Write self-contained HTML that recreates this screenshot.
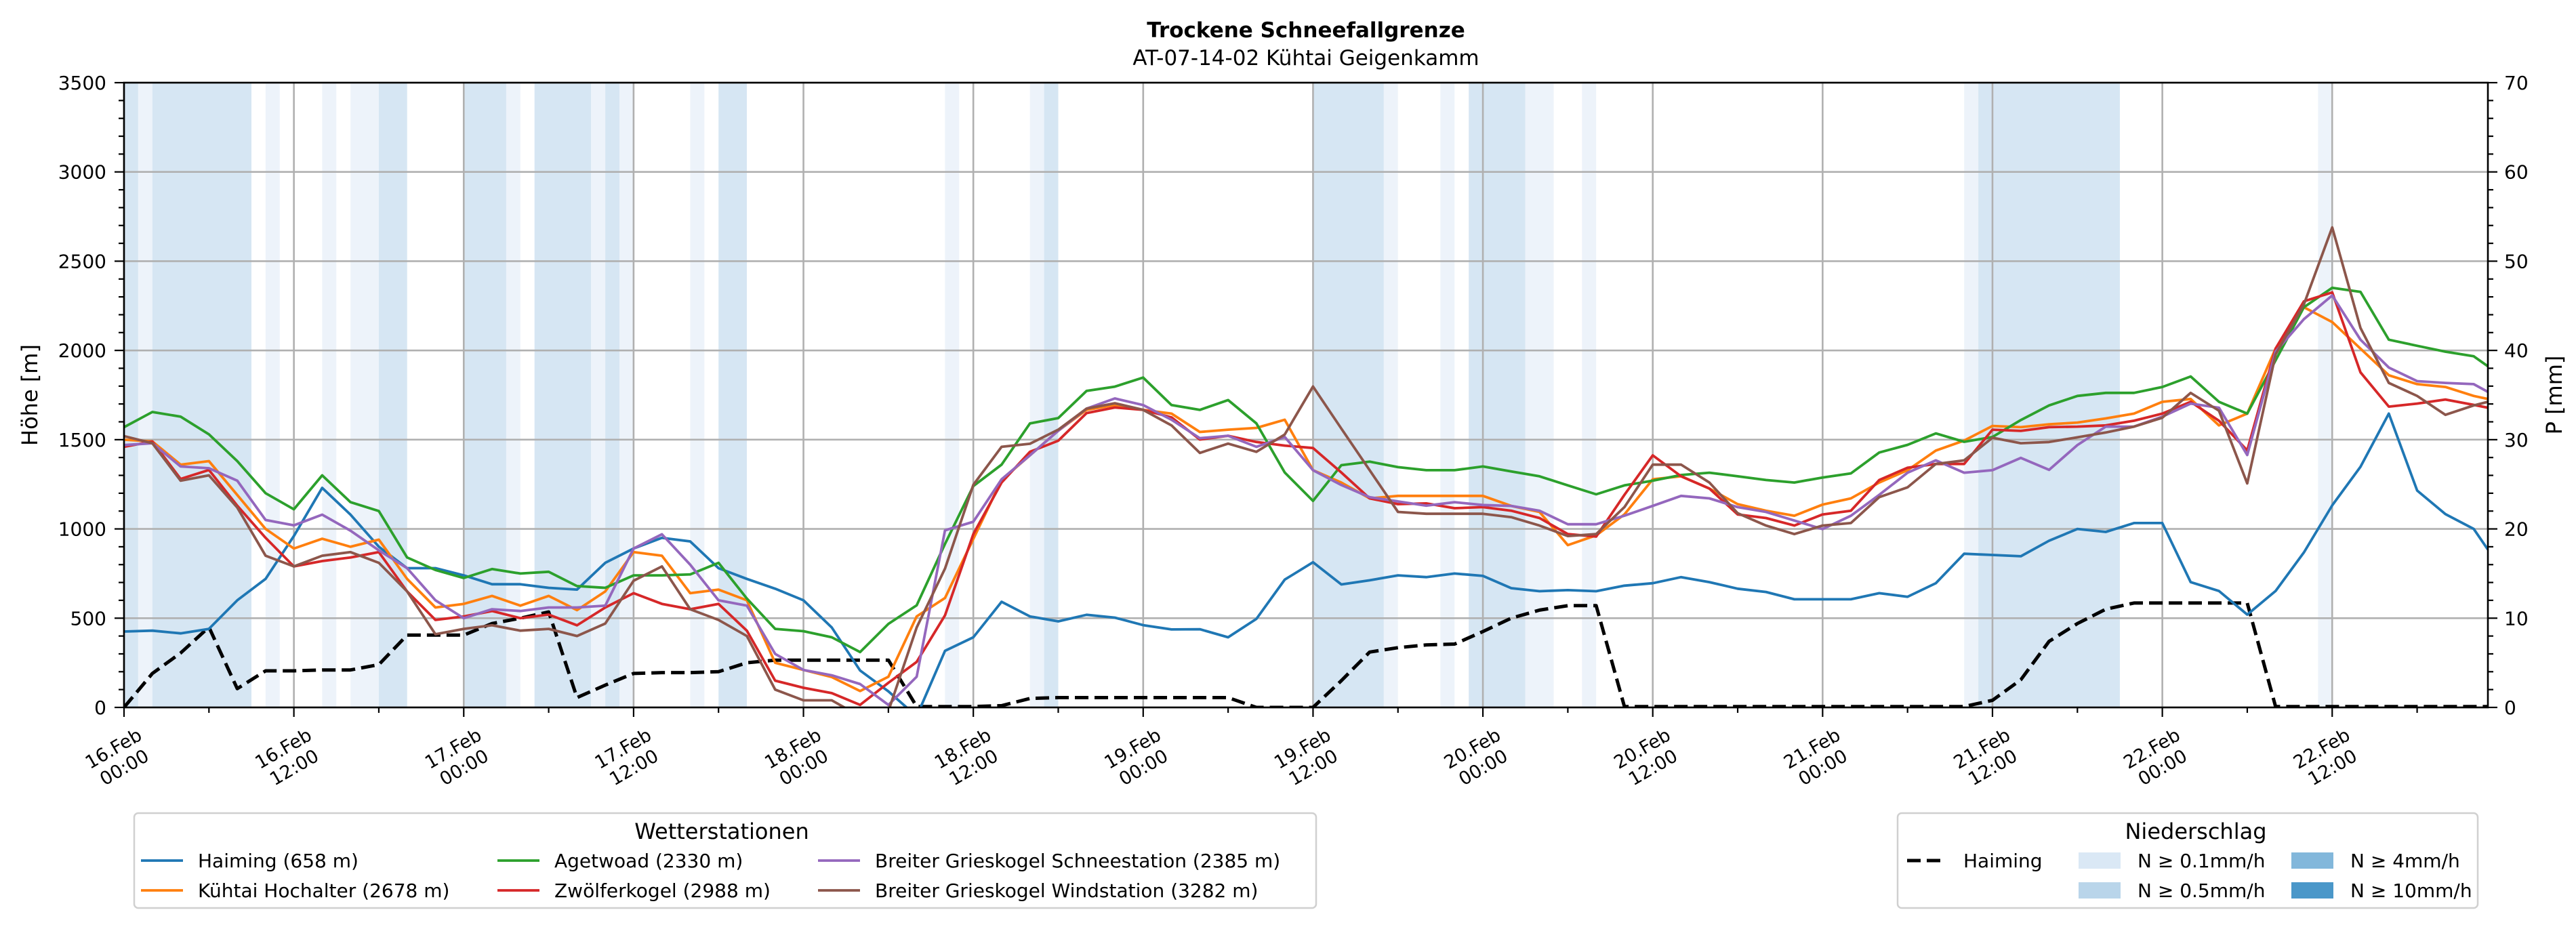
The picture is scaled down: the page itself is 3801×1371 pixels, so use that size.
<!DOCTYPE html>
<html><head><meta charset="utf-8"><style>
html,body{margin:0;padding:0;background:#fff}
svg{display:block;font-family:"DejaVu Sans","Liberation Sans",sans-serif}
</style></head><body>
<svg id="chart" width="3801" height="1371" viewBox="0 0 3801 1371" xmlns="http://www.w3.org/2000/svg">
<text x="1927" y="55" font-size="31" font-weight="bold" text-anchor="middle">Trockene Schneefallgrenze</text>
<text x="1927" y="96" font-size="31" text-anchor="middle">AT-07-14-02 Kühtai Geigenkamm</text>
<text transform="translate(55,583) rotate(-90)" font-size="32" text-anchor="middle">Höhe [m]</text>
<text transform="translate(3780,583) rotate(-90)" font-size="32" text-anchor="middle">P [mm]</text>
<defs><clipPath id="plotclip"><rect x="183" y="122" width="3488" height="922"/></clipPath></defs>
<g id="bands" clip-path="url(#plotclip)"></g>
<g id="grid"></g>
<g id="series" clip-path="url(#plotclip)"></g>
<g id="axes"></g>
<g id="legends"></g>
</svg>
<script>
const hours = [];
for (let h = 0; h <= 166; h += 2) hours.push(h);
hours.push(167);
const haiming = [425,430,415,440,600,720,960,1230,1080,900,780,780,740,690,690,670,660,810,890,950,930,780,720,665,600,448,207,90,-50,317,393,592,510,482,519,503,461,437,438,393,496,716,813,689,712,740,730,750,737,668,651,657,651,682,696,730,702,665,647,606,606,606,640,620,696,861,854,847,934,1000,983,1033,1033,702,652,520,652,868,1132,1348,1646,1215,1083,1000,884];
const agetwoad = [1570,1655,1629,1530,1380,1200,1110,1300,1150,1100,840,770,725,775,750,760,680,670,740,740,745,810,610,440,427,393,310,468,572,916,1240,1360,1591,1621,1773,1797,1848,1694,1667,1722,1591,1316,1157,1357,1377,1346,1329,1329,1350,1322,1295,1244,1194,1244,1270,1302,1315,1295,1274,1260,1288,1311,1428,1471,1535,1488,1515,1610,1692,1745,1762,1762,1795,1854,1712,1646,1944,2242,2351,2328,2060,2026,1993,1967,1911];
const kuehtai = [1500,1490,1360,1380,1190,1000,890,945,900,940,720,560,580,625,570,625,545,650,870,850,640,660,600,250,210,170,92,172,510,613,944,1274,1412,1550,1667,1694,1667,1646,1543,1556,1566,1612,1329,1260,1171,1185,1185,1185,1185,1129,1095,909,964,1081,1278,1295,1226,1139,1102,1074,1136,1171,1260,1329,1439,1495,1577,1570,1586,1596,1619,1646,1712,1728,1580,1646,2010,2242,2159,2010,1861,1811,1795,1745,1728];
const zwoelfer = [1460,1490,1280,1330,1130,950,790,820,840,870,650,490,510,540,500,520,460,560,640,580,550,580,430,150,110,80,14,138,255,516,971,1260,1432,1494,1649,1680,1667,1625,1501,1522,1487,1467,1453,1316,1171,1139,1143,1116,1122,1102,1061,971,957,1191,1412,1295,1226,1081,1061,1019,1081,1102,1274,1343,1364,1364,1556,1549,1570,1573,1580,1606,1646,1712,1606,1440,2010,2275,2325,1877,1685,1702,1725,1695,1679];
const schnee = [1470,1480,1350,1340,1270,1050,1020,1080,990,880,780,600,500,550,540,560,560,570,890,970,800,600,570,300,210,180,131,14,172,992,1040,1278,1412,1550,1674,1731,1694,1612,1508,1522,1460,1515,1329,1246,1178,1154,1130,1150,1134,1129,1102,1026,1026,1074,1129,1185,1171,1122,1095,1047,999,1074,1191,1315,1384,1315,1329,1398,1331,1470,1573,1573,1629,1702,1679,1414,1993,2175,2308,2060,1904,1828,1818,1811,1768];
const wind = [1520,1480,1270,1300,1120,850,790,850,870,810,650,410,440,460,430,440,400,470,710,790,550,490,400,100,40,40,-50,-20,448,778,1247,1460,1477,1556,1674,1704,1667,1580,1426,1478,1432,1529,1798,1562,1329,1095,1085,1085,1085,1066,1019,960,971,1122,1360,1360,1260,1088,1019,971,1019,1033,1178,1233,1364,1384,1511,1480,1487,1513,1540,1573,1623,1762,1662,1255,1977,2258,2689,2126,1818,1745,1639,1692,1712];
const precip = [0,3.8,6.1,9.0,2.1,4.1,4.1,4.2,4.2,4.8,8.1,8.1,8.1,9.4,10.0,10.7,1.1,2.5,3.8,3.9,3.9,4.0,5.0,5.3,5.3,5.3,5.3,5.3,0.1,0.1,0.1,0.2,1.0,1.1,1.1,1.1,1.1,1.1,1.1,1.1,0,0,0,3.0,6.2,6.7,7.0,7.1,8.5,10.0,10.9,11.4,11.4,0.1,0.1,0.1,0.1,0.1,0.1,0.1,0.1,0.1,0.1,0.1,0.1,0.1,0.8,3.1,7.4,9.4,11.0,11.7,11.7,11.7,11.7,11.7,0.1,0.1,0.1,0.1,0.1,0.1,0.1,0.1,0.1];
// precipitation intensity bands: start hour, end hour, level (1: >=0.1, 2: >=0.5)
const bandStart = [0,1,2,10,14,16,18,24,27,29,33,34,35,40,42,58,64,65,84,89,93,95,99,103,130,131,155];
const bandEnd   = [1,2,9,11,15,18,20,27,28,33,34,35,36,41,44,59,65,66,89,90,94,99,101,104,131,141,156];
const bandLevel = [2,1,2,1,1,1,2,2,1,2,1,2,1,1,2,1,1,2,2,1,1,2,1,1,1,2,1];
const xTickHours = [0,12,24,36,48,60,72,84,96,108,120,132,144,156];
const xTickDates = ["16.Feb","16.Feb","17.Feb","17.Feb","18.Feb","18.Feb","19.Feb","19.Feb","20.Feb","20.Feb","21.Feb","21.Feb","22.Feb","22.Feb"];
const xTickTimes = ["00:00","12:00","00:00","12:00","00:00","12:00","00:00","12:00","00:00","12:00","00:00","12:00","00:00","12:00"];
const yTicks = [0,500,1000,1500,2000,2500,3000,3500];
const y2Ticks = [0,10,20,30,40,50,60,70];

const NS = "http://www.w3.org/2000/svg";
const L = 183, R = 3671, T = 122, B = 1044;
const HMAX = 167, YMAX = 3500, PMAX = 70;
const X = h => L + h * (R - L) / HMAX;
const Y = m => B - m * (B - T) / YMAX;
const YP = p => B - p * (B - T) / PMAX;
function mk(tag, attrs, parent) {
  const e = document.createElementNS(NS, tag);
  for (const k in attrs) e.setAttribute(k, attrs[k]);
  parent.appendChild(e);
  return e;
}
const gB = document.getElementById('bands'), gG = document.getElementById('grid'),
      gS = document.getElementById('series'), gA = document.getElementById('axes'),
      gL = document.getElementById('legends');

// bands
bandStart.forEach((s, i) => {
  const r = mk('rect', {x: X(s), y: T, width: X(bandEnd[i]) - X(s), height: B - T, fill: bandLevel[i] === 2 ? '#d6e6f3' : '#edf3fa'}, gB);
  
  
});
// grid
xTickHours.forEach(h => {
  const l = mk('line', {x1: X(h), x2: X(h), y1: T, y2: B, stroke: '#b0b0b0', 'stroke-width': 2.6}, gG);
  
  
});
yTicks.forEach(v => {
  const l = mk('line', {x1: L, x2: R, y1: Y(v), y2: Y(v), stroke: '#b0b0b0', 'stroke-width': 2.6}, gG);
  
  
});
// series
function line(vals, color, name, dashed, yfn) {
  const pts = vals.map((v, i) => X(hours[i]).toFixed(1) + ',' + yfn(v).toFixed(1)).join(' ');
  const p = mk('polyline', {points: pts, fill: 'none', stroke: color, 'stroke-width': dashed ? 5 : 3.8, 'stroke-linejoin': 'round'}, gS);
  if (dashed) p.setAttribute('stroke-dasharray', '20 9');
  
  
}
line(precip, '#000', 'precip-haiming-line', true, YP);
line(haiming, '#1f77b4', 'haiming-line', false, Y);
line(kuehtai, '#ff7f0e', 'kuehtai-hochalter-line', false, Y);
line(agetwoad, '#2ca02c', 'agetwoad-line', false, Y);
line(zwoelfer, '#d62728', 'zwoelferkogel-line', false, Y);
line(schnee, '#9467bd', 'grieskogel-schneestation-line', false, Y);
line(wind, '#8c564b', 'grieskogel-windstation-line', false, Y);

// axes frame
const fr = mk('rect', {x: L, y: T, width: R - L, height: B - T, fill: 'none', stroke: '#000', 'stroke-width': 2.6}, gA);


// left ticks
for (let v = 0; v <= YMAX; v += 100) {
  const major = v % 500 === 0;
  mk('line', {x1: L - (major ? 14 : 8), x2: L, y1: Y(v), y2: Y(v), stroke: '#000', 'stroke-width': 2.2}, gA);
}
yTicks.forEach(v => {
  const t = mk('text', {x: L - 26, y: Y(v) + 10, 'font-size': 28, 'text-anchor': 'end'}, gA);
  t.textContent = v;
  
  
});
for (let p = 0; p <= PMAX; p += 2) {
  const major = p % 10 === 0;
  mk('line', {x1: R, x2: R + (major ? 14 : 8), y1: YP(p), y2: YP(p), stroke: '#000', 'stroke-width': 2.2}, gA);
}
y2Ticks.forEach(p => {
  const t = mk('text', {x: R + 24, y: YP(p) + 10, 'font-size': 28}, gA);
  t.textContent = p;
  
  
});
for (let h = 0; h <= HMAX; h += 6) {
  const major = h % 12 === 0;
  mk('line', {x1: X(h), x2: X(h), y1: B, y2: B + (major ? 14 : 8), stroke: '#000', 'stroke-width': 2.2}, gA);
}
xTickHours.forEach((h, i) => {
  const g = mk('g', {transform: 'translate(' + (X(h) - 8) + ',1118) rotate(-30)'}, gA);
  
  
  const t1 = mk('text', {x: 0, y: -6, 'font-size': 27, 'text-anchor': 'middle'}, g);
  t1.textContent = xTickDates[i];
  const t2 = mk('text', {x: 0, y: 26, 'font-size': 27, 'text-anchor': 'middle'}, g);
  t2.textContent = xTickTimes[i];
});

// legends
function box(x, y, w, h, name) {
  const r = mk('rect', {x: x, y: y, width: w, height: h, rx: 6, fill: '#fff', 'fill-opacity': 0.85, stroke: '#d0d0d0', 'stroke-width': 2.5}, gL);
  
  
}
function txt(x, y, s, size, name, anchor) {
  const t = mk('text', {x: x, y: y, 'font-size': size, 'text-anchor': anchor || 'start'}, gL);
  t.textContent = s;
  
  
}
box(198, 1200, 1744, 140, 'stations-legend');
txt(1065, 1238, 'Wetterstationen', 32, 'stations-legend-title', 'middle');
const legNames = ['Haiming (658 m)', 'Kühtai Hochalter (2678 m)', 'Agetwoad (2330 m)', 'Zwölferkogel (2988 m)', 'Breiter Grieskogel Schneestation (2385 m)', 'Breiter Grieskogel Windstation (3282 m)'];
const legColors = ['#1f77b4', '#ff7f0e', '#2ca02c', '#d62728', '#9467bd', '#8c564b'];
const colX = [208, 734, 1207];
legNames.forEach((n, i) => {
  const cx = colX[Math.floor(i / 2)], cy = i % 2 === 0 ? 1270 : 1314;
  const l = mk('line', {x1: cx, x2: cx + 62, y1: cy, y2: cy, stroke: legColors[i], 'stroke-width': 3.8}, gL);
  
  
  txt(cx + 84, cy + 10, n, 28, 'legend-entry');
});
box(2800, 1200, 856, 140, 'precip-legend');
txt(3240, 1238, 'Niederschlag', 32, 'precip-legend-title', 'middle');
const dl = mk('line', {x1: 2814, x2: 2870, y1: 1270, y2: 1270, stroke: '#000', 'stroke-width': 5, 'stroke-dasharray': '20 9'}, gL);


txt(2897, 1280, 'Haiming', 28, 'legend-entry');
const patchLabels = ['N ≥ 0.1mm/h', 'N ≥ 0.5mm/h', 'N ≥ 4mm/h', 'N ≥ 10mm/h'];
const patchColors = ['#dae8f5', '#b9d5ea', '#82b7db', '#4a97c9'];
patchLabels.forEach((s, i) => {
  const px = i < 2 ? 3067 : 3381, py = i % 2 === 0 ? 1270 : 1314;
  const r = mk('rect', {x: px, y: py - 12, width: 62, height: 24, fill: patchColors[i]}, gL);
  
  
  txt(px + 87, py + 10, s, 28, 'legend-entry');
});
</script>
</body></html>
